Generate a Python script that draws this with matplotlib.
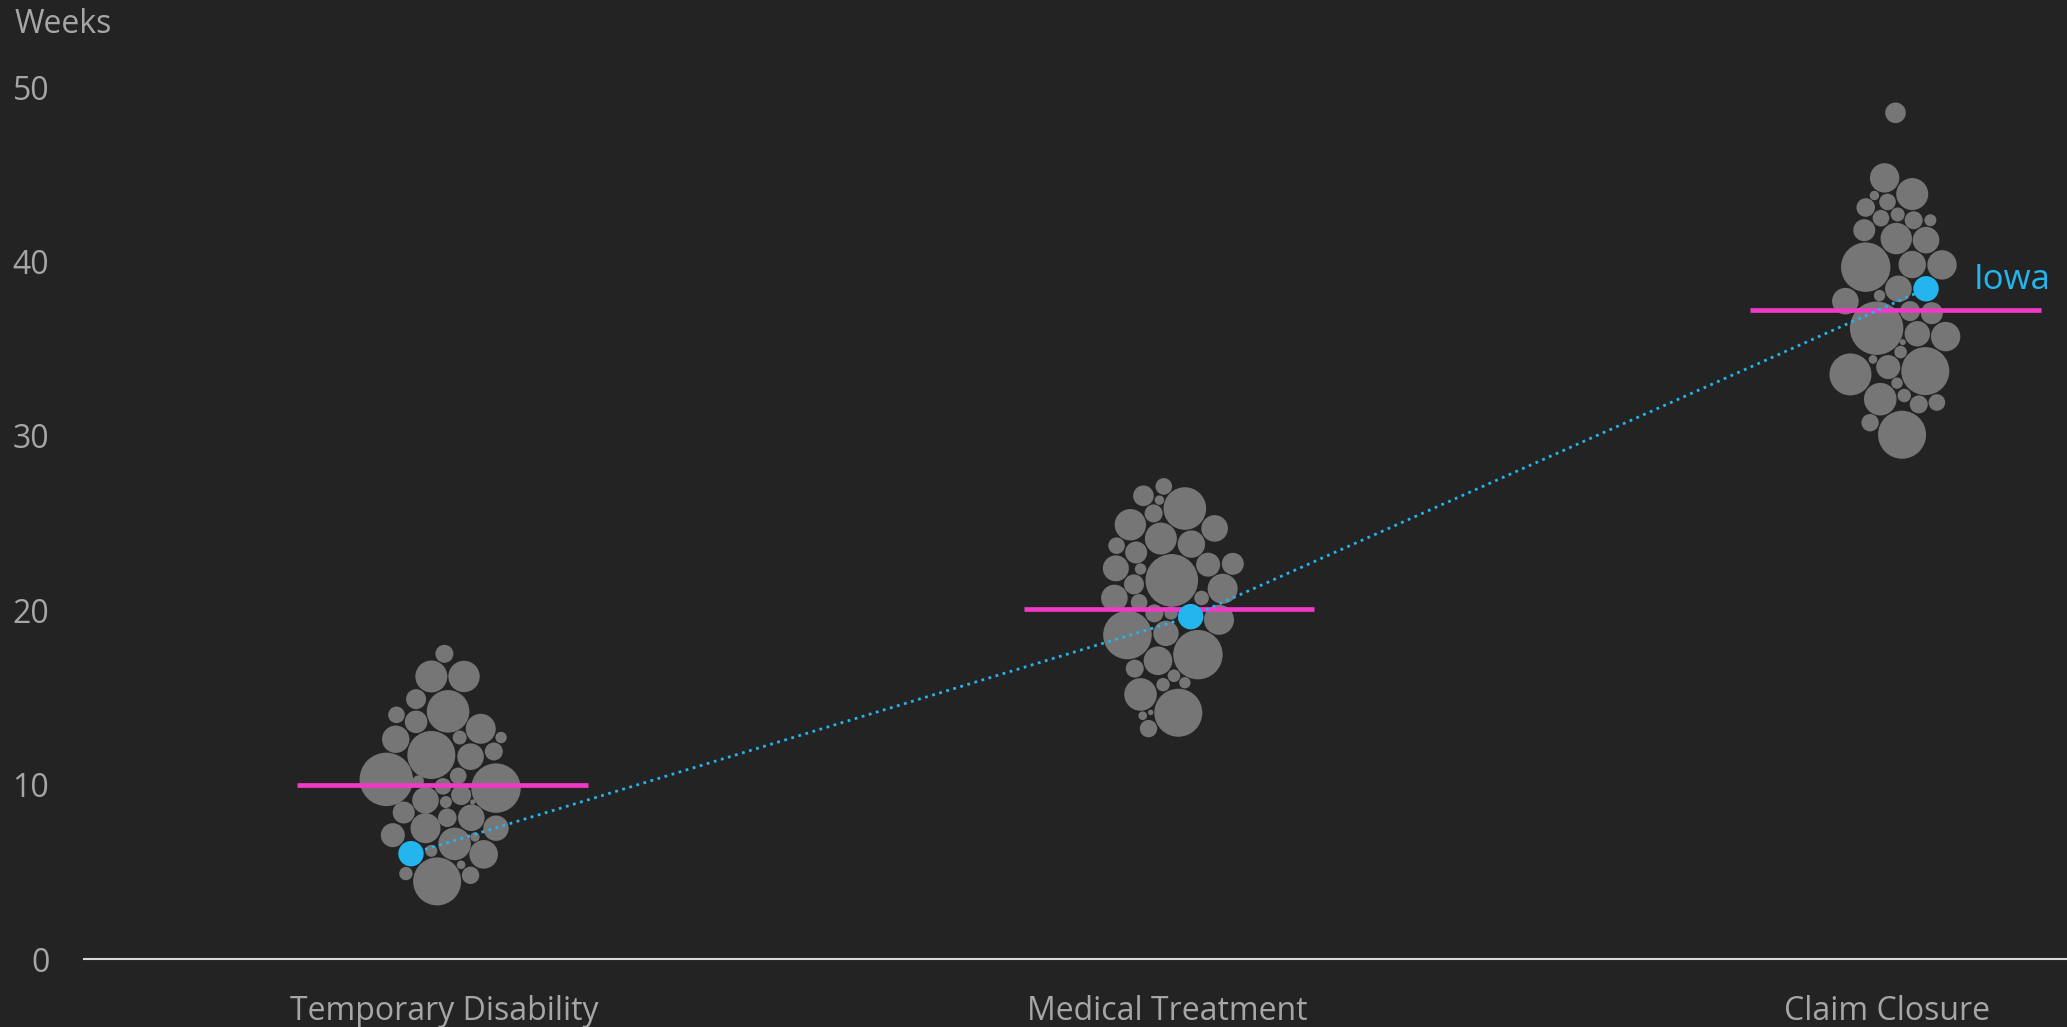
import matplotlib
matplotlib.use("Agg")
import matplotlib.pyplot as plt
import matplotlib.transforms as mtransforms
import numpy as np

# ---------------- data ----------------
categories = ["Temporary Disability", "Medical Treatment", "Claim Closure"]

# Temporary Disability: weeks, jitter (category units), bubble radius measure
td_weeks = [17.5, 16.2, 16.2, 14.9, 14.2, 14.0, 13.6, 13.2, 12.7, 12.6, 11.7, 12.7, 11.6,
            11.9, 10.3, 10.5, 9.8, 10.2, 9.9, 9.1, 9.4, 9.0, 8.4, 9.0, 8.1, 8.1, 7.1,
            7.5, 7.5, 6.6, 7.0, 6.2, 6.0, 5.4, 4.9, 4.8, 4.45]
td_jitter = [0.003, -0.015, 0.030, -0.036, 0.008, -0.063, -0.036, 0.053, 0.081, -0.064,
             -0.015, 0.024, 0.039, 0.071, -0.077, 0.022, 0.074, -0.033, 0.001, -0.023,
             0.026, 0.005, -0.053, 0.042, 0.007, 0.040, -0.068, -0.023, 0.074, 0.017,
             0.045, -0.015, 0.057, 0.026, -0.050, 0.039, -0.007]
td_volume = [9.0, 16, 15.7, 10, 21.3, 8.3, 11.3, 15, 5.7, 13.7, 24, 7, 13.3, 9, 26.7, 8.3,
             24.7, 5.7, 8.3, 13.3, 10, 6, 11, 2.7, 9.3, 13.3, 12, 15, 12.7, 16.3, 4.7, 6,
             14.3, 4.3, 6.7, 8.7, 24]

# Medical Treatment
mt_weeks = [27.10, 26.56, 26.31, 25.83, 25.55, 24.90, 24.69, 24.11, 23.79, 23.70, 23.31,
            22.40, 22.36, 21.71, 22.61, 22.66, 21.48, 21.23, 20.70, 20.70, 20.45, 19.82,
            19.84, 19.45, 18.58, 18.67, 17.45, 17.10, 16.65, 16.24, 15.73, 15.84, 15.17,
            14.12, 13.95, 14.14, 13.21]
mt_jitter = [-0.007, -0.035, -0.013, 0.022, -0.021, -0.053, 0.063, -0.011, 0.031, -0.072,
             -0.045, -0.073, -0.039, 0.004, 0.054, 0.088, -0.048, 0.074, -0.075, 0.045,
             -0.041, -0.020, 0.003, 0.069, -0.057, -0.004, 0.040, -0.015, -0.047, 0.007,
             -0.008, 0.022, -0.039, 0.013, -0.036, -0.025, -0.028]
mt_volume = [8.3, 10.3, 4.7, 21.3, 9, 15.7, 13.3, 16, 13.7, 8.3, 11, 13, 5.7, 26.3, 12, 11,
             10, 15, 13.3, 7.3, 8.3, 9, 6.7, 15, 24.3, 12.7, 24.7, 14.3, 9, 6.3, 6.7, 5.7,
             16.3, 24, 4.3, 2.7, 8.7]

# Claim Closure
cc_weeks = [48.52, 44.79, 43.86, 43.78, 43.41, 43.09, 42.69, 42.48, 42.36, 42.36, 41.79,
            41.31, 41.22, 39.67, 39.82, 39.80, 38.43, 37.72, 38.04, 37.15, 37.03, 36.17,
            35.85, 35.69, 35.37, 34.80, 34.38, 33.52, 33.94, 33.71, 33.02, 32.31, 32.10,
            31.80, 31.91, 30.75, 30.06]
cc_jitter = [0.000, -0.015, 0.023, -0.029, -0.011, -0.041, 0.003, -0.020, 0.025, 0.048,
             -0.043, 0.001, 0.042, -0.041, 0.023, 0.064, 0.004, -0.069, -0.022, 0.020,
             0.050, -0.026, 0.030, 0.069, 0.010, 0.007, -0.031, -0.062, -0.010, 0.041,
             0.002, 0.012, -0.021, 0.032, 0.057, -0.035, 0.009]
cc_volume = [10.3, 14.7, 16, 4.7, 8.3, 9.3, 7, 8.3, 9, 6, 11, 15.7, 13.3, 24.7, 13.7, 14.7,
             13.3, 13.3, 5.7, 10, 11, 26.7, 12.7, 14.7, 3, 6.3, 4.3, 21, 12, 24, 5.7, 6.7,
             16.3, 9, 8.3, 8.7, 24]

# Iowa
iowa_weeks = [6.04, 19.63, 38.43]
iowa_jitter = [-0.043, 0.030, 0.042]
iowa_volume = [12.7, 12.7, 12.7]

# medians (magenta bars)
medians = [10.0, 20.05, 37.2]

y_ticks = [0, 10, 20, 30, 40, 50]

# ---------------- style ----------------
BG = "#232323"
GRAY = "#767676"
MAGENTA = "#EE3AC6"
BLUE = "#22B5EE"
TEXT = "#A6A6A6"
FONT = "Open Sans"

W, H, DPI = 2067, 1027, 100
fig = plt.figure(figsize=(W / DPI, H / DPI), dpi=DPI, facecolor=BG)

left_px, right_px = 84, 2067
bottom_px, top_px = 959, 87
ax = fig.add_axes([left_px / W, (H - bottom_px) / H, (right_px - left_px) / W,
                   (bottom_px - top_px) / H])
ax.set_facecolor(BG)
ax.set_xlim(-0.493, 2.236)
ax.set_ylim(0, 50)


def size_from_volume(v):
    # radius measure (pixels) -> marker area in points^2
    r_pt = np.asarray(v) * 72.0 / DPI
    return (2 * r_pt) ** 2


groups = [(td_weeks, td_jitter, td_volume),
          (mt_weeks, mt_jitter, mt_volume),
          (cc_weeks, cc_jitter, cc_volume)]

for i, (wk, jit, vol) in enumerate(groups):
    xs = i + np.asarray(jit)
    ax.scatter(xs, wk, s=size_from_volume(vol), color=GRAY, linewidths=0,
               zorder=2, clip_on=False)

for i, m in enumerate(medians):
    ax.hlines(m, i - 0.2, i + 0.2, color=MAGENTA, linewidth=3.4, zorder=3)

ix = np.arange(len(categories)) + np.asarray(iowa_jitter)
ax.plot(ix, iowa_weeks, linestyle=":", color=BLUE, linewidth=2.0, zorder=4)
ax.scatter(ix, iowa_weeks, s=size_from_volume(iowa_volume), color=BLUE, linewidths=0,
           zorder=5, clip_on=False)
ax.annotate("Iowa", xy=(ix[-1], iowa_weeks[-1]), xytext=(34, 6), textcoords="offset points",
            color=BLUE, fontsize=25, family=FONT, va="center", ha="left")

# axes styling
for sp in ["top", "right", "left"]:
    ax.spines[sp].set_visible(False)
ax.spines["bottom"].set_color("#D9D9D9")
ax.spines["bottom"].set_linewidth(1.5)

ax.set_yticks(y_ticks)
ax.set_yticklabels([str(t) for t in y_ticks], color=TEXT, fontsize=23, family=FONT)
ax.tick_params(axis="y", length=0, pad=25)
ax.set_xticks(range(len(categories)))
ax.set_xticklabels(categories, color=TEXT, fontsize=23, family=FONT)
ax.tick_params(axis="x", length=0, pad=26)

# small horizontal nudges of the category labels (as in the reference)
nudges_px = [2, -2, -9]
for lab, dx in zip(ax.get_xticklabels(), nudges_px):
    lab.set_transform(lab.get_transform() +
                      mtransforms.ScaledTranslation(dx / DPI, 0, fig.dpi_scale_trans))

fig.text(15 / W, 1 - 33 / H, "Weeks", color=TEXT, fontsize=23, family=FONT,
         ha="left", va="baseline")

fig.savefig("out.png", dpi=DPI, facecolor=BG)
